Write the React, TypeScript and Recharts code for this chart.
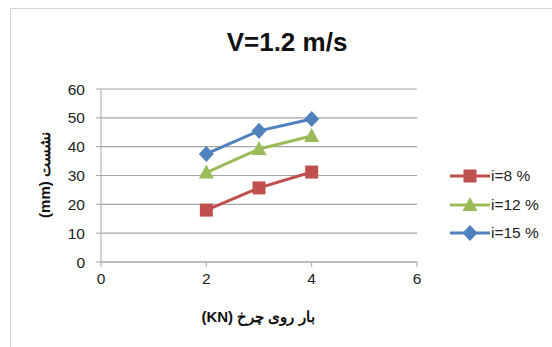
import React from 'react';
import { LineChart, Line, XAxis, YAxis, CartesianGrid } from 'recharts';

// Wheel load (KN)
const loads = [2, 3, 4];
// Settlement (mm) per slope
const settle8 = [18, 25.7, 31.2];
const settle12 = [31, 39.2, 43.7];
const settle15 = [37.5, 45.5, 49.6];
const xTicks = [0, 2, 4, 6];
const yTicks = [0, 10, 20, 30, 40, 50, 60];

const seriesNames = ['i=8 %', 'i=12 %', 'i=15 %'];
const colors = ['#C0504D', '#9BBB59', '#4F81BD'];

const data = loads.map((x, i) => ({
  x,
  s8: settle8[i],
  s12: settle12[i],
  s15: settle15[i],
}));

const FONT = '"Liberation Sans", Arial, sans-serif';

const Square = (props: any) => {
  const { cx, cy, fill } = props;
  if (cx == null || cy == null) return null;
  return <rect x={cx - 6.5} y={cy - 6.5} width={13} height={13} fill={fill} />;
};
const Triangle = (props: any) => {
  const { cx, cy, fill } = props;
  if (cx == null || cy == null) return null;
  return <polygon points={`${cx},${cy - 8} ${cx + 7.5},${cy + 6} ${cx - 7.5},${cy + 6}`} fill={fill} />;
};
const Diamond = (props: any) => {
  const { cx, cy, fill } = props;
  if (cx == null || cy == null) return null;
  return <polygon points={`${cx},${cy - 8} ${cx + 7.5},${cy} ${cx},${cy + 8} ${cx - 7.5},${cy}`} fill={fill} />;
};
const markers = [Square, Triangle, Diamond];

const LegendItem = ({ idx }: { idx: number }) => {
  const M = markers[idx];
  return (
    <div style={{ display: 'flex', alignItems: 'center', height: 28.5 }}>
      <svg width={40} height={20}>
        <line x1={0} y1={10} x2={40} y2={10} stroke={colors[idx]} strokeWidth={3} />
        <M cx={20} cy={10} fill={colors[idx]} />
      </svg>
      <span style={{ fontSize: 15.5, color: '#222', marginLeft: 1 }}>{seriesNames[idx]}</span>
    </div>
  );
};

export default function App() {
  return (
    <div
      style={{
        position: 'absolute',
        left: 0,
        top: 0,
        width: 552,
        height: 347,
        background: '#fff',
        fontFamily: FONT,
        overflow: 'hidden',
      }}
    >
      <div
        style={{
          position: 'absolute',
          left: 10,
          top: 8,
          width: 560,
          height: 360,
          border: '1.5px solid #d4d4d4',
          boxSizing: 'border-box',
        }}
      />
      <div
        style={{
          position: 'absolute',
          left: 0,
          width: 574,
          top: 27,
          textAlign: 'center',
          fontSize: 26,
          fontWeight: 'bold',
          color: '#111',
        }}
      >
        V=1.2 m/s
      </div>
      <div style={{ position: 'absolute', left: 0, top: 0 }}>
        <LineChart
          width={552}
          height={347}
          data={data}
          margin={{ top: 89, right: 135, bottom: 55, left: 61 }}
        >
          <CartesianGrid vertical={false} stroke="#a6a6a6" strokeWidth={1.2} />
          <XAxis
            dataKey="x"
            type="number"
            domain={[0, 6]}
            ticks={xTicks}
            height={30}
            stroke="#a6a6a6"
            tickSize={5}
            tickMargin={6}
            tick={{ fill: '#222', fontSize: 15.5, fontFamily: FONT }}
          />
          <YAxis
            type="number"
            domain={[0, 60]}
            ticks={yTicks}
            width={40}
            stroke="#a6a6a6"
            tickSize={5}
            tickMargin={11}
            tick={{ fill: '#222', fontSize: 15.5, fontFamily: FONT }}
          />
          <Line
            dataKey="s8"
            stroke={colors[0]}
            strokeWidth={3}
            dot={(p: any) => <Square key={`a${p.index}`} {...p} fill={colors[0]} />}
            isAnimationActive={false}
          />
          <Line
            dataKey="s12"
            stroke={colors[1]}
            strokeWidth={3}
            dot={(p: any) => <Triangle key={`b${p.index}`} {...p} fill={colors[1]} />}
            isAnimationActive={false}
          />
          <Line
            dataKey="s15"
            stroke={colors[2]}
            strokeWidth={3}
            dot={(p: any) => <Diamond key={`c${p.index}`} {...p} fill={colors[2]} />}
            isAnimationActive={false}
          />
        </LineChart>
      </div>
      <div
        dir="rtl"
        style={{
          position: 'absolute',
          left: 45,
          top: 175,
          transform: 'translate(-50%, -50%) rotate(-90deg)',
          whiteSpace: 'nowrap',
          fontSize: 15,
          fontWeight: 'bold',
          color: '#111',
        }}
      >
        نشست (mm)
      </div>
      <div
        dir="rtl"
        style={{
          position: 'absolute',
          left: 258,
          top: 317,
          transform: 'translate(-50%, -50%)',
          whiteSpace: 'nowrap',
          fontSize: 15,
          fontWeight: 'bold',
          color: '#111',
        }}
      >
        بار روی چرخ (KN)
      </div>
      <div style={{ position: 'absolute', left: 450, top: 162 }}>
        {[0, 1, 2].map((i) => (
          <LegendItem key={i} idx={i} />
        ))}
      </div>
    </div>
  );
}
